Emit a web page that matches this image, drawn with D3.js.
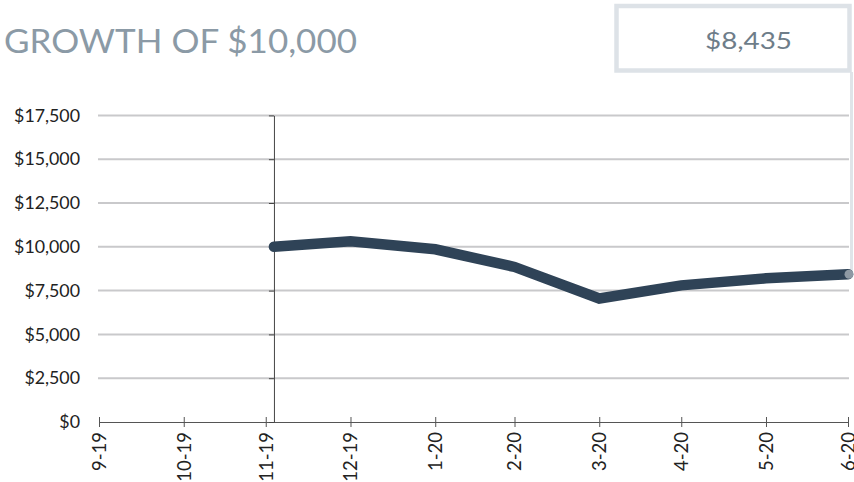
<!DOCTYPE html>
<html>
<head>
<meta charset="utf-8">
<script src="https://cdn.jsdelivr.net/npm/d3@7"></script>
<style>
  html, body { margin: 0; padding: 0; background: #fff; }
  svg { display: block; }
</style>
</head>
<body>
<svg id="chart" width="854" height="482"></svg>
<script>
// ---- data ----
const title = "GROWTH OF $10,000";
const endValueLabel = "$8,435";
const tickDates = ["2019-09-30","2019-10-31","2019-11-30","2019-12-31","2020-01-31","2020-02-29","2020-03-31","2020-04-30","2020-05-31","2020-06-30"];
const tickLabels = ["9-19","10-19","11-19","12-19","1-20","2-20","3-20","4-20","5-20","6-20"];
const seriesDates = ["2019-12-03","2019-12-31","2020-01-31","2020-02-29","2020-03-31","2020-04-30","2020-05-31","2020-06-30"];
const seriesValues = [10000, 10310, 9860, 8850, 7050, 7800, 8200, 8435];
const yTicks = [0, 2500, 5000, 7500, 10000, 12500, 15000, 17500];

// ---- layout ----
(function () {
const svg = d3.select("#chart");
const parse = d3.utcParse("%Y-%m-%d");
const plotLeft = 99, plotRight = 848, plotTop = 115.4, plotBottom = 422;

const x = d3.scaleUtc()
  .domain([parse(tickDates[0]), parse(tickDates[tickDates.length - 1])])
  .range([plotLeft, plotRight]);
const y = d3.scaleLinear().domain([0, 17500]).range([plotBottom, plotTop]);

const font = "Lato, 'Open Sans', sans-serif";

// title
svg.append("text")
  .attr("x", 4).attr("y", 53)
  .attr("font-family", font).attr("font-size", 33)
  .attr("fill", "#8b9aa6")
  .attr("textLength", 353).attr("lengthAdjust", "spacingAndGlyphs")
  .text(title);

// value box + connector
svg.append("line")
  .attr("x1", 851.5).attr("x2", 851.5)
  .attr("y1", 72).attr("y2", y(seriesValues[seriesValues.length - 1]))
  .attr("stroke", "#e0e4e8").attr("stroke-width", 3);
svg.append("rect")
  .attr("x", 616.5).attr("y", 6).attr("width", 233).attr("height", 64.5)
  .attr("fill", "#fff").attr("stroke", "#dde2e7").attr("stroke-width", 4.5);
svg.append("text")
  .attr("x", 705).attr("y", 49)
  .attr("font-family", font).attr("font-size", 24)
  .attr("fill", "#6e7d89")
  .attr("textLength", 87).attr("lengthAdjust", "spacingAndGlyphs")
  .text(endValueLabel);

// gridlines
svg.append("g").selectAll("line")
  .data(yTicks.filter(d => d > 0))
  .join("line")
  .attr("x1", 98).attr("x2", 849)
  .attr("y1", d => y(d)).attr("y2", d => y(d))
  .attr("stroke", "#c9c9cb").attr("stroke-width", 2);

// y labels
svg.append("g").selectAll("text")
  .data(yTicks)
  .join("text")
  .attr("x", 80).attr("y", d => y(d))
  .attr("dy", "0.35em")
  .attr("text-anchor", "end")
  .attr("font-family", font).attr("font-size", 17.8)
  .attr("fill", "#222")
  .text(d => "$" + d3.format(",")(d));

// x axis
const xAxis = d3.axisBottom(x)
  .tickValues(tickDates.map(parse))
  .tickFormat((d, i) => tickLabels[i])
  .tickSize(5)
  .tickSizeOuter(0);
const gx = svg.append("g").attr("transform", `translate(0,${plotBottom})`).call(xAxis);
gx.select(".domain").attr("stroke", "#555").attr("d", `M${plotLeft},0.5H849`);
gx.selectAll(".tick line").attr("stroke", "#555").attr("y1", -5).attr("y2", 5);
gx.selectAll(".tick text")
  .attr("font-family", font).attr("font-size", 18.5)
  .attr("fill", "#222")
  .attr("transform", "rotate(-90)")
  .attr("text-anchor", "end")
  .attr("x", -10).attr("y", 0).attr("dy", "0.35em");

// inception vertical axis
const x0 = x(parse(seriesDates[0]));
const yAxis = d3.axisLeft(y).tickValues(yTicks).tickSize(5).tickFormat("").tickSizeOuter(0);
const gy = svg.append("g").attr("transform", `translate(${x0},0)`).call(yAxis);
gy.select(".domain").attr("stroke", "#444");
gy.selectAll(".tick line").attr("stroke", "#444");

// series line
const pts = seriesDates.map((d, i) => ({ date: parse(d), value: seriesValues[i] }));
const line = d3.line().x(d => x(d.date)).y(d => y(d.value));
svg.append("path")
  .datum(pts)
  .attr("d", line)
  .attr("fill", "none")
  .attr("stroke", "#2f4357")
  .attr("stroke-width", 10.5)
  .attr("stroke-linecap", "round")
  .attr("stroke-linejoin", "miter");

// end marker
const last = pts[pts.length - 1];
svg.append("circle")
  .attr("cx", x(last.date) + 1).attr("cy", y(last.value))
  .attr("r", 4.5)
  .attr("fill", "#8e99a4");
})();
</script>
</body>
</html>
